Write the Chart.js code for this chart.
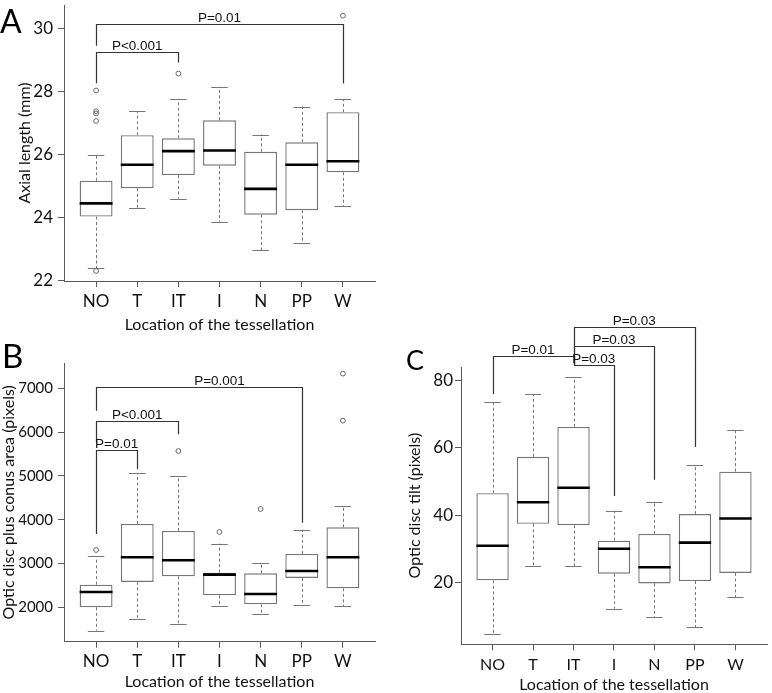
<!DOCTYPE html>
<html lang="en">
<head>
  <meta charset="UTF-8" />
  <title>Tessellation location box plots</title>
  <style>
    body { margin: 0; background: #fff; }
    #wrap { position: relative; width: 772px; height: 693px; }
    canvas { position: absolute; }
    #chartA { left: 0; top: 0; }
    #chartB { left: 0; top: 335px; }
    #chartC { left: 390px; top: 290px; }
  </style>
</head>
<body>
  <div id="wrap">
    <canvas id="chartA" width="390" height="340"></canvas>
    <canvas id="chartB" width="390" height="358"></canvas>
    <canvas id="chartC" width="382" height="403"></canvas>
  </div>
  <script src="https://cdn.jsdelivr.net/npm/chart.js"></script>
  <script>
    const categories = ['NO', 'T', 'IT', 'I', 'N', 'PP', 'W'];

    // A - axial length (mm)
    const axialLow    = [22.38, 24.30, 24.59, 23.85, 22.95, 23.19, 24.35];
    const axialQ1     = [24.02, 24.92, 25.34, 25.64, 24.08, 24.22, 25.43];
    const axialMedian = [24.44, 25.67, 26.10, 26.12, 24.90, 25.67, 25.78];
    const axialQ3     = [25.16, 26.61, 26.51, 27.08, 26.08, 26.38, 27.34];
    const axialHigh   = [25.97, 27.38, 27.75, 28.15, 26.63, 27.52, 27.76];
    const axialOutliers = [['NO', 28.03], ['NO', 27.37], ['NO', 27.30], ['NO', 27.06], ['NO', 22.29], ['IT', 28.57], ['W', 30.41]];
    const axialTicks = [22, 24, 26, 28, 30];
    // from, to, bar level, left leg end, right leg end, label
    const axialBrackets = [
      ['NO', 'W', 30.14, 29.45, 28.25, 'P=0.01'],
      ['NO', 'IT', 29.25, 28.26, 28.92, 'P<0.001']
    ];

    // B - optic disc plus conus area (pixels)
    const areaLow    = [1467, 1726, 1620, 2023, 1848, 2053, 2023];
    const areaQ1     = [2000, 2578, 2708, 2274, 2068, 2670, 2434];
    const areaMedian = [2350, 3142, 3073, 2746, 2304, 2829, 3142];
    const areaQ3     = [2517, 3903, 3743, 2791, 2776, 3218, 3826];
    const areaHigh   = [3164, 5067, 4998, 3454, 3005, 3758, 4313];
    const areaOutliers = [['NO', 3309], ['IT', 5569], ['I', 3720], ['N', 4245], ['W', 6262], ['W', 7335]];
    const areaTicks = [2000, 3000, 4000, 5000, 6000, 7000];
    const areaBrackets = [
      ['NO', 'PP', 7023, 6490, 3933, 'P=0.001', 4],
      ['NO', 'IT', 6262, 5744, 5950, 'P<0.001'],
      ['NO', 'T', 5584, 3674, 5151, 'P=0.01']
    ];

    // C - optic disc tilt (pixels)
    const tiltLow    = [4.8, 25.0, 24.8, 12.2, 9.6, 6.6, 15.6];
    const tiltQ1     = [20.6, 37.4, 37.0, 22.6, 19.7, 20.4, 22.8];
    const tiltMedian = [30.9, 43.8, 48.1, 30.0, 24.5, 31.8, 39.0];
    const tiltQ3     = [46.5, 57.3, 66.2, 32.4, 34.4, 40.3, 52.9];
    const tiltHigh   = [73.7, 75.9, 80.9, 41.3, 43.8, 55.0, 65.3];
    const tiltOutliers = [];
    const tiltTicks = [20, 40, 60, 80];
    const tiltBrackets = [
      ['IT', 'PP', 95.8, 84.7, 60.2, 'P=0.03'],
      ['IT', 'N', 90.2, 84.7, 50.5, 'P=0.03'],
      ['NO', 'IT', 87.4, 76.0, 84.7, 'P=0.01'],
      ['IT', 'I', 84.7, 84.7, 45.7, 'P=0.03']
    ];

    const xTitle = 'Location of the tessellation';
    const axisColor = '#5a5a5a';
    const boxColor = '#767676';

    function boxPartsPlugin(panel) {
      return {
        id: 'boxParts',
        beforeDatasetsDraw(chart) {
          const ctx = chart.ctx, y = chart.scales.y;
          const bars = chart.getDatasetMeta(0).data;
          ctx.save();
          ctx.strokeStyle = boxColor;
          ctx.lineWidth = 1;
          bars.forEach((bar, i) => {
            const x = Math.round(bar.x) + 0.5;
            const half = bar.width / 4;
            ctx.setLineDash([3, 2.5]);
            ctx.beginPath();
            ctx.moveTo(x, y.getPixelForValue(panel.q3[i]));
            ctx.lineTo(x, y.getPixelForValue(panel.high[i]));
            ctx.moveTo(x, y.getPixelForValue(panel.q1[i]));
            ctx.lineTo(x, y.getPixelForValue(panel.low[i]));
            ctx.stroke();
            ctx.setLineDash([]);
            ctx.beginPath();
            [panel.high[i], panel.low[i]].forEach(v => {
              const py = Math.round(y.getPixelForValue(v)) + 0.5;
              ctx.moveTo(bar.x - half, py);
              ctx.lineTo(bar.x + half, py);
            });
            ctx.stroke();
          });
          ctx.restore();
        },
        afterDatasetsDraw(chart) {
          const ctx = chart.ctx, y = chart.scales.y;
          const bars = chart.getDatasetMeta(0).data;
          ctx.save();
          ctx.strokeStyle = '#000';
          ctx.lineWidth = 2.6;
          bars.forEach((bar, i) => {
            const py = y.getPixelForValue(panel.med[i]);
            ctx.beginPath();
            ctx.moveTo(bar.x - bar.width / 2, py);
            ctx.lineTo(bar.x + bar.width / 2, py);
            ctx.stroke();
          });
          ctx.restore();
        },
        afterDraw(chart) {
          const ctx = chart.ctx, x = chart.scales.x, y = chart.scales.y;
          ctx.save();
          ctx.strokeStyle = '#333';
          ctx.lineWidth = 1.2;
          ctx.fillStyle = '#111';
          ctx.font = '13.5px "Liberation Sans", Arial, sans-serif';
          ctx.textAlign = 'center';
          ctx.textBaseline = 'alphabetic';
          panel.brackets.forEach(b => {
            const i0 = categories.indexOf(b[0]) + 1, i1 = categories.indexOf(b[1]) + 1;
            const x0 = Math.round(x.getPixelForValue(i0)) + 0.5;
            const x1 = Math.round(x.getPixelForValue(i1)) + 0.5;
            const top = Math.round(y.getPixelForValue(b[2])) + 0.5;
            ctx.beginPath();
            ctx.moveTo(x0, y.getPixelForValue(b[3]));
            ctx.lineTo(x0, top);
            ctx.lineTo(x1, top);
            ctx.lineTo(x1, y.getPixelForValue(b[4]));
            ctx.stroke();
            const lx = x.getPixelForValue(b[6] !== undefined ? b[6] : (i0 + i1) / 2);
            ctx.fillText(b[5], lx, top - 3);
          });
          ctx.font = panel.letterSize + 'px Lato, sans-serif';
          ctx.textAlign = 'left';
          ctx.fillStyle = '#000';
          ctx.fillText(panel.letter, panel.letterX, panel.letterY);
          ctx.restore();
        }
      };
    }

    function makeChart(panel) {
      const ctx = document.getElementById(panel.canvas).getContext('2d');
      return new Chart(ctx, {
        type: 'bar',
        data: {
          datasets: [{
            type: 'bar',
            data: categories.map((c, i) => ({ x: i + 1, y: [panel.q1[i], panel.q3[i]] })),
            backgroundColor: '#fff',
            borderColor: boxColor,
            borderWidth: 1.4,
            borderSkipped: false,
            barPercentage: 0.8,
            categoryPercentage: 1
          }, {
            type: 'scatter',
            data: panel.outliers.map(o => ({ x: categories.indexOf(o[0]) + 1, y: o[1] })),
            pointRadius: 2.4,
            pointBorderWidth: 1,
            pointBackgroundColor: 'transparent',
            pointBorderColor: '#666'
          }]
        },
        options: {
          responsive: false,
          animation: false,
          events: [],
          layout: { padding: panel.padding },
          plugins: { legend: { display: false }, tooltip: { enabled: false } },
          scales: {
            x: {
              type: 'linear',
              min: 0.22,
              max: 7.78,
              offset: false,
              afterBuildTicks: s => { s.ticks = categories.map((c, i) => ({ value: i + 1 })); },
              afterFit: s => { s.height = panel.xHeight; s.paddingLeft = 0; s.paddingRight = 0; },
              grid: { drawOnChartArea: false, offset: false, tickLength: 6, color: axisColor },
              border: { display: true, color: axisColor, width: 1 },
              ticks: {
                padding: panel.xTickPad,
                color: '#111',
                font: { family: 'Lato', size: panel.xTickSize },
                callback: v => categories[v - 1]
              },
              title: {
                display: true, text: xTitle, color: '#111',
                font: { family: 'Lato', size: 16, lineHeight: 1 },
                padding: { top: 0, bottom: panel.xTitlePad }
              }
            },
            y: {
              min: panel.yMin,
              max: panel.yMax,
              afterBuildTicks: s => { s.ticks = panel.ticks.map(v => ({ value: v })); },
              afterFit: s => { s.width = panel.yWidth; s.paddingTop = 0; s.paddingBottom = 0; },
              grid: { drawOnChartArea: false, tickLength: 6, color: axisColor },
              border: { display: true, color: axisColor, width: 1 },
              ticks: {
                padding: panel.yTickPad,
                color: '#111',
                font: { family: 'Lato', size: panel.yTickSize },
                callback: v => String(v)
              },
              title: {
                display: true, text: panel.yTitle, color: '#111',
                font: { family: 'Lato', size: 16, lineHeight: 1 },
                padding: { top: panel.yTitlePad, bottom: 0 }
              }
            }
          }
        },
        plugins: [boxPartsPlugin(panel)]
      });
    }

    makeChart({
      canvas: 'chartA', yTitle: 'Axial length (mm)', letter: 'A',
      low: axialLow, q1: axialQ1, med: axialMedian, q3: axialQ3, high: axialHigh,
      outliers: axialOutliers, brackets: axialBrackets, ticks: axialTicks,
      yMin: 21.97, yMax: 30.75,
      padding: { top: 3, left: 0, right: 15, bottom: 0 },
      yWidth: 64, xHeight: 59, xTitlePad: 7, yTitlePad: 17, xTickPad: 4, yTickPad: 5,
      xTickSize: 17, yTickSize: 17,
      letterX: 0, letterY: 33, letterSize: 32
    });

    makeChart({
      canvas: 'chartB', yTitle: 'Optic disc plus conus area (pixels)', letter: 'B',
      low: areaLow, q1: areaQ1, med: areaMedian, q3: areaQ3, high: areaHigh,
      outliers: areaOutliers, brackets: areaBrackets, ticks: areaTicks,
      yMin: 1215, yMax: 7578,
      padding: { top: 28, left: 0, right: 15, bottom: 0 },
      yWidth: 64, xHeight: 51.3, xTitlePad: 3, yTitlePad: 1, xTickPad: 4, yTickPad: 5,
      xTickSize: 17, yTickSize: 15,
      letterX: 2, letterY: 33, letterSize: 33
    });

    makeChart({
      canvas: 'chartC', yTitle: 'Optic disc tilt (pixels)', letter: 'C',
      low: tiltLow, q1: tiltQ1, med: tiltMedian, q3: tiltQ3, high: tiltHigh,
      outliers: tiltOutliers, brackets: tiltBrackets, ticks: tiltTicks,
      yMin: 1.6, yMax: 84,
      padding: { top: 77, left: 0, right: 5, bottom: 0 },
      yWidth: 71, xHeight: 48.7, xTitlePad: 0, yTitlePad: 17, xTickPad: 5, yTickPad: 2,
      xTickSize: 16, yTickSize: 17,
      letterX: 16, letterY: 80, letterSize: 27
    });
  </script>
</body>
</html>
